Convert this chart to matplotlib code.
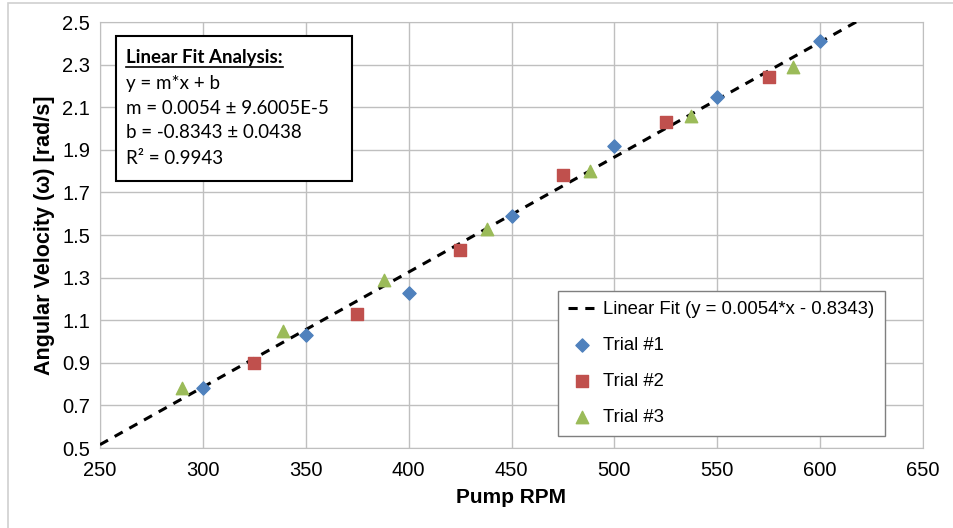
import numpy as np
import matplotlib
matplotlib.use("Agg")
import matplotlib.pyplot as plt
from matplotlib.patches import Rectangle
from matplotlib.lines import Line2D

# trial data
t1_rpm = [300, 350, 400, 450, 500, 550, 600]
t1_w = [0.78, 1.03, 1.23, 1.59, 1.92, 2.15, 2.41]
t2_rpm = [325, 375, 425, 475, 525, 575]
t2_w = [0.90, 1.13, 1.43, 1.78, 2.03, 2.24]
t3_rpm = [290, 339, 388, 438, 488, 537, 587]
t3_w = [0.78, 1.05, 1.29, 1.53, 1.80, 2.06, 2.29]

slope = 0.0054
intercept = -0.8343

box_lines = ["y = m*x + b",
             "m = 0.0054 \u00b1 9.6005E-5",
             "b = -0.8343 \u00b1 0.0438",
             "R\u00b2 = 0.9943"]

plt.rcParams['font.family'] = ['Liberation Sans', 'DejaVu Sans']

W, H = 954, 528
fig = plt.figure(figsize=(W / 100, H / 100), dpi=100)
ax = fig.add_axes([100 / W, 1 - 448 / H, 823 / W, 426 / H])

xfit = np.array([250, 650])
ax.plot(xfit, slope * xfit + intercept, '--', color='black', lw=2.2,
        dashes=(3, 2.5), label='Linear Fit (y = 0.0054*x - 0.8343)', zorder=3)
ax.scatter(t1_rpm, t1_w, marker='D', s=45, color='#4F81BD', label='Trial #1', zorder=4)
ax.scatter(t2_rpm, t2_w, marker='s', s=70, color='#C0504D', label='Trial #2', zorder=4)
ax.scatter(t3_rpm, t3_w, marker='^', s=80, color='#9BBB59', label='Trial #3', zorder=4)

ax.set_xlim(250, 650)
ax.set_ylim(0.5, 2.5)
ax.set_xticks(np.arange(250, 651, 50))
ax.set_yticks(np.arange(0.5, 2.51, 0.2))
ax.set_yticklabels([f"{v:.1f}" for v in np.arange(0.5, 2.51, 0.2)])
ax.tick_params(length=0, labelsize=14.5)
ax.tick_params(axis='x', pad=9)
ax.tick_params(axis='y', pad=7)
ax.grid(True, color='#bfbfbf', lw=1)
ax.set_axisbelow(True)
for s in ax.spines.values():
    s.set_color('#bfbfbf')

ax.set_xlabel('Pump RPM', fontsize=15, fontweight='bold', labelpad=6)
ax.set_ylabel('Angular Velocity (\u03c9) [rad/s]', fontsize=15.5, fontweight='bold', labelpad=5)

leg = ax.legend(loc='upper left', bbox_to_anchor=(558 / W, 1 - 291 / H),
                bbox_transform=fig.transFigure, fontsize=13.3, frameon=True,
                fancybox=False, edgecolor='#7f7f7f', framealpha=1,
                labelspacing=1.02, handlelength=1.5, borderpad=0.55,
                handletextpad=0.4, borderaxespad=0)
leg.get_frame().set_linewidth(1)

# fit analysis box
fig.patches.append(Rectangle((116 / W, 1 - 181 / H), 236 / W, 145 / H,
                             transform=fig.transFigure, facecolor='white',
                             edgecolor='black', lw=1.5, zorder=5))
tfont = ['Lato', 'DejaVu Sans']
head = fig.text(126 / W, 1 - 57 / H, 'Linear Fit Analysis:', fontsize=13.5,
                fontweight='bold', family=tfont, va='center', zorder=6)
for i, line in enumerate(box_lines):
    fig.text(126 / W, 1 - (83 + 25 * i) / H, line, fontsize=13.5,
             family=tfont, va='center', zorder=6)

fig.canvas.draw()
bb = head.get_window_extent()
uy = bb.y0 - 1
fig.add_artist(Line2D([bb.x0 / W, bb.x1 / W], [uy / H, uy / H],
                      transform=fig.transFigure, color='black', lw=1.2, zorder=6))

# outer chart border
fig.patches.append(Rectangle((8 / W, -2 / H), 950 / W, 527 / H,
                             transform=fig.transFigure, fill=False,
                             edgecolor='#d0d0d0', lw=1.2))

fig.savefig('out.png', dpi=100)
